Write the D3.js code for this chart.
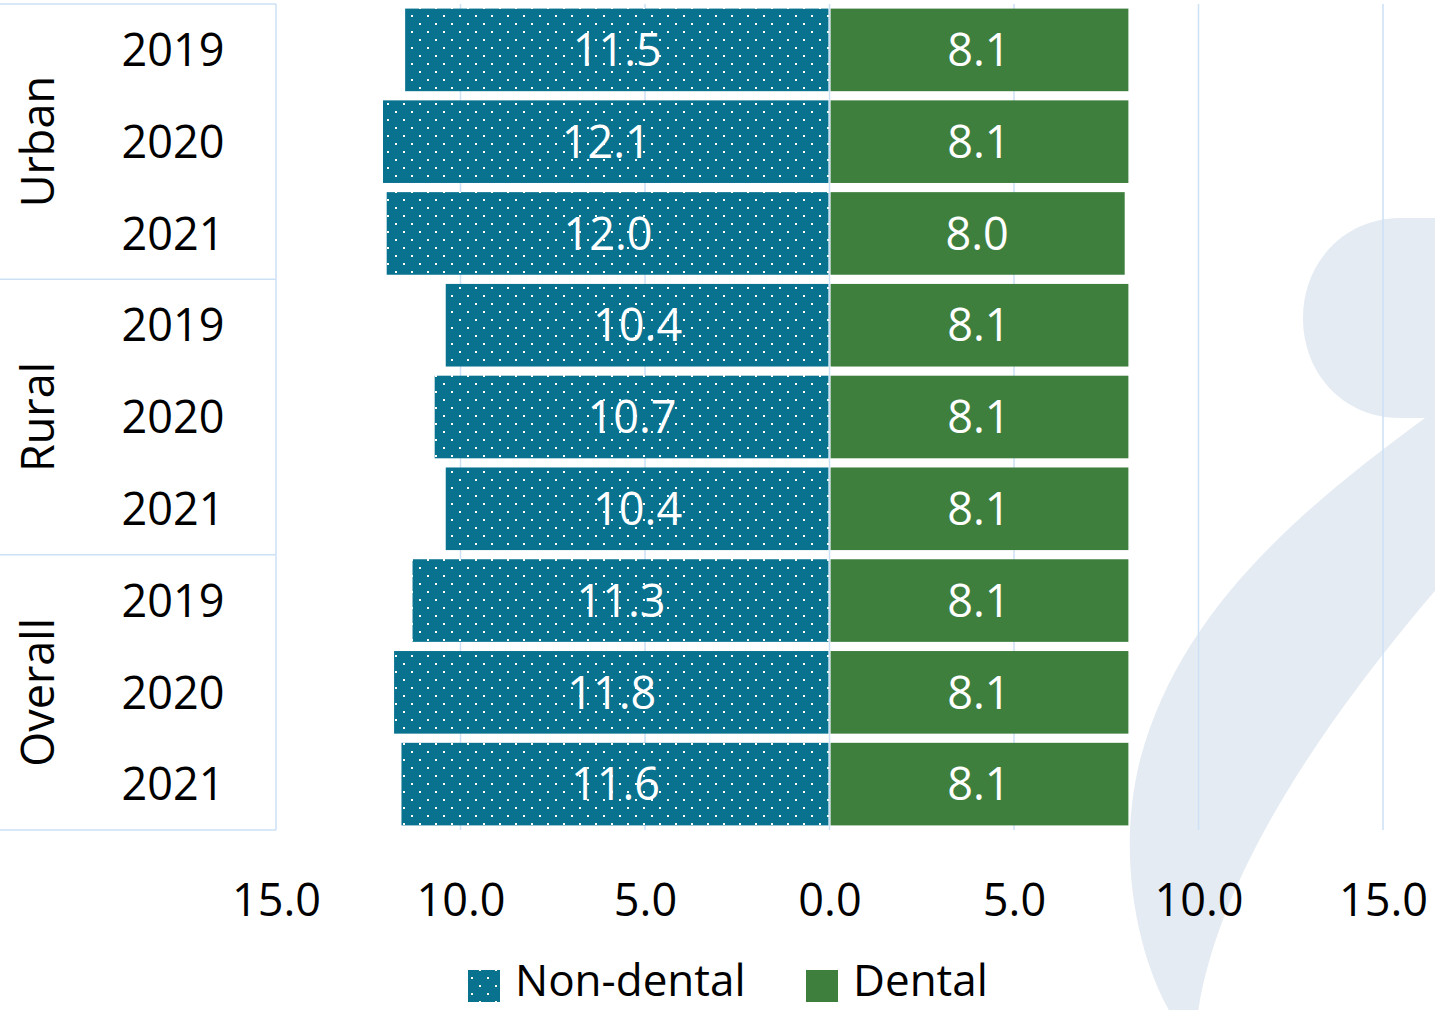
<!DOCTYPE html>
<html>
<head>
<meta charset="utf-8">
<script src="https://cdn.jsdelivr.net/npm/d3@7"></script>
<style>
  html, body { margin: 0; padding: 0; background: #ffffff; }
  svg { display: block; font-family: "Open Sans", "Noto Sans", sans-serif; }
</style>
</head>
<body>
<svg id="chart" width="1435" height="1010"></svg>
<script>
// Region groups and years shown on the category axis
const groups = ["Urban", "Rural", "Overall"];
const years = ["2019", "2020", "2021"];
// Values per row (group × year, in order)
const nonDental = [11.5, 12.1, 12.0, 10.4, 10.7, 10.4, 11.3, 11.8, 11.6];
const dental = [8.1, 8.1, 8.0, 8.1, 8.1, 8.1, 8.1, 8.1, 8.1];
// Value axis ticks (absolute values, shown on both sides)
const tickValues = [-15, -10, -5, 0, 5, 10, 15];
const seriesNames = ["Non-dental", "Dental"];

const teal = "#08728f";
const green = "#3e7f3e";
const gridColor = "#cde1f6";

const svg = d3.select("#chart");

const rows = [];
groups.forEach((g, gi) => years.forEach((yr, yi) => {
  const i = gi * years.length + yi;
  rows.push({ key: g + "-" + yr, group: g, year: yr, nd: nonDental[i], d: dental[i] });
}));

const x = d3.scaleLinear().domain([-15, 15]).range([276, 1383]);
const y = d3.scaleBand().domain(rows.map(r => r.key)).range([4, 830])
  .paddingInner(0.1).paddingOuter(0.05);

// Dotted fill for the non-dental series: staggered dots, 16px apart, rows 8px apart
const defs = svg.append("defs");
const pat = defs.append("pattern").attr("id", "dots")
  .attr("patternUnits", "userSpaceOnUse").attr("width", 16).attr("height", 16);
pat.append("rect").attr("width", 16).attr("height", 16).attr("fill", teal);
pat.append("rect").attr("x", 11).attr("y", 15).attr("width", 2).attr("height", 2).attr("fill", "#ffffff");
pat.append("rect").attr("x", 11).attr("y", -1).attr("width", 2).attr("height", 2).attr("fill", "#ffffff");
pat.append("rect").attr("x", 3).attr("y", 7).attr("width", 2).attr("height", 2).attr("fill", "#ffffff");

// Background emblem
svg.append("path")
  .attr("d", "M1440,218 L1400,218 C1345,218 1303,262 1303,318 C1303,375 1345,418 1400,418 L1425,418 " +
             "C1300,510 1180,610 1140,760 C1115,860 1140,960 1170,1012 L1198,1012 " +
             "C1215,900 1290,760 1440,585 Z")
  .attr("fill", "#e4ebf3");

// Vertical gridlines
svg.append("g").selectAll("line")
  .data(tickValues.filter(v => v !== -15 && v !== 0))
  .join("line")
  .attr("x1", d => x(d)).attr("x2", d => x(d))
  .attr("y1", 4).attr("y2", 830)
  .attr("stroke", gridColor).attr("stroke-width", 1.5);

// Category axis frame: right edge and group separators
const [y0, y1] = y.range();
const frame = svg.append("g").attr("stroke", gridColor).attr("stroke-width", 1.5);
frame.append("line").attr("x1", x(-15)).attr("x2", x(-15)).attr("y1", y0).attr("y2", y1);
const groupBounds = groups.map((g, gi) => {
  const first = rows[gi * years.length].key;
  const last = rows[gi * years.length + years.length - 1].key;
  const top = gi === 0 ? y0 : (y(first) - y.step() * y.paddingInner() / 2);
  const bottom = gi === groups.length - 1 ? y1 : (y(last) + y.bandwidth() + y.step() * y.paddingInner() / 2);
  return { g, top, bottom };
});
frame.selectAll("line.sep")
  .data([y0].concat(groupBounds.map(b => b.bottom)))
  .join("line").attr("class", "sep")
  .attr("x1", 0).attr("x2", x(-15))
  .attr("y1", d => d).attr("y2", d => d);

// Bars
const bars = svg.append("g");
bars.selectAll("rect.nd").data(rows).join("rect").attr("class", "nd")
  .attr("x", d => x(-d.nd)).attr("width", d => x(0) - x(-d.nd) - 1)
  .attr("y", d => y(d.key)).attr("height", y.bandwidth())
  .attr("fill", "url(#dots)");
bars.selectAll("rect.d").data(rows).join("rect").attr("class", "d")
  .attr("x", x(0) + 1).attr("width", d => x(d.d) - x(0) - 1)
  .attr("y", d => y(d.key)).attr("height", y.bandwidth())
  .attr("fill", green);

// Zero line
svg.append("line").attr("x1", x(0)).attr("x2", x(0)).attr("y1", y0).attr("y2", y1)
  .attr("stroke", gridColor).attr("stroke-width", 1.5);

// Data labels
const labels = svg.append("g").attr("fill", "#ffffff").attr("font-size", 45).attr("text-anchor", "middle");
labels.selectAll("text.nd").data(rows).join("text")
  .attr("x", d => (x(-d.nd) + x(0)) / 2)
  .attr("y", d => y(d.key) + y.bandwidth() / 2).attr("dy", "0.36em")
  .text(d => d.nd.toFixed(1));
labels.selectAll("text.d").data(rows).join("text")
  .attr("x", d => (x(d.d) + x(0)) / 2)
  .attr("y", d => y(d.key) + y.bandwidth() / 2).attr("dy", "0.36em")
  .text(d => d.d.toFixed(1));

// Year labels
svg.append("g").attr("font-size", 45).attr("text-anchor", "middle").attr("fill", "#000")
  .selectAll("text").data(rows).join("text")
  .attr("x", 173).attr("y", d => y(d.key) + y.bandwidth() / 2).attr("dy", "0.36em")
  .text(d => d.year);

// Group labels (rotated)
svg.append("g").attr("font-size", 45).attr("text-anchor", "middle").attr("fill", "#000")
  .selectAll("text").data(groupBounds).join("text")
  .attr("transform", d => `translate(38,${(d.top + d.bottom) / 2}) rotate(-90)`)
  .attr("dy", "0.36em")
  .text(d => d.g);

// Value axis
const axis = d3.axisBottom(x).tickValues(tickValues).tickSize(0)
  .tickFormat(v => Math.abs(v).toFixed(1));
const ax = svg.append("g").attr("transform", "translate(0,870)").call(axis);
ax.select(".domain").remove();
ax.selectAll("text").attr("font-size", 45).attr("fill", "#000")
  .attr("font-family", "'Open Sans', 'Noto Sans', sans-serif")
  .attr("dy", "0").attr("y", 46);

// Legend
const legend = svg.append("g").attr("font-size", 44).attr("fill", "#000");
const legendItems = [
  { name: seriesNames[0], fill: "url(#dots)", x: 468 },
  { name: seriesNames[1], fill: green, x: 806 }
];
const li = legend.selectAll("g").data(legendItems).join("g")
  .attr("transform", d => `translate(${d.x},970)`);
li.append("rect").attr("width", 32).attr("height", 32).attr("fill", d => d.fill);
li.append("text").attr("x", 47).attr("y", 10).attr("dy", "0.36em").text(d => d.name);
</script>
</body>
</html>
